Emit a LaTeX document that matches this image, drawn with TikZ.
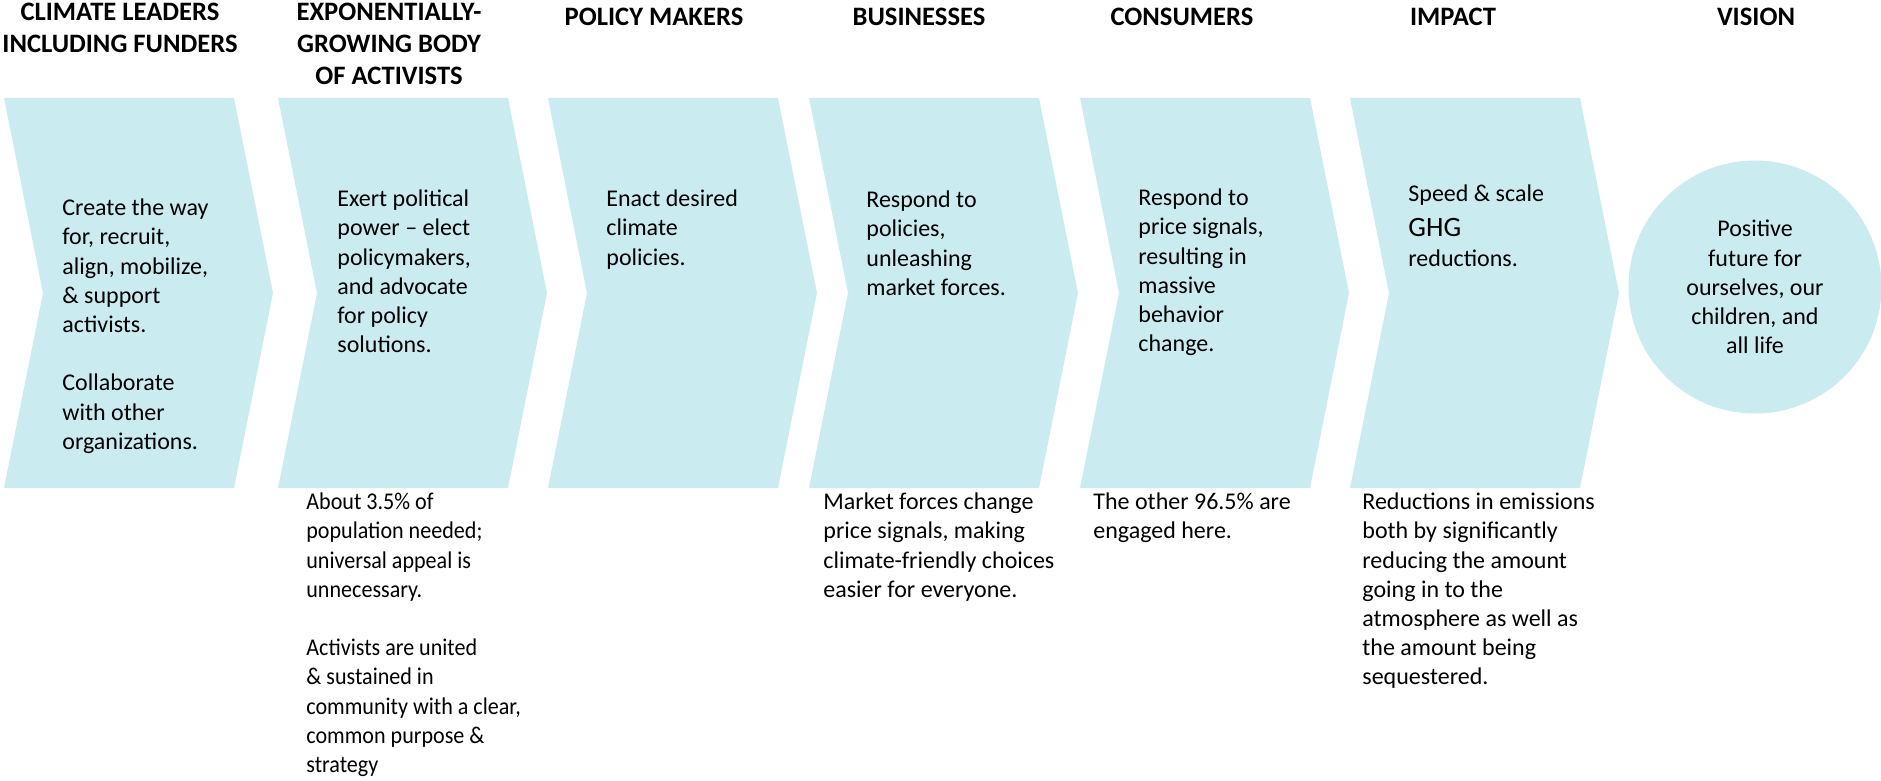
\documentclass[tikz,border=0pt]{standalone}
\usepackage{fontspec}
\setmainfont{Carlito}
\newfontfamily\narrowfont{Carlito}[FakeStretch=0.92]
\definecolor{chevblue}{RGB}{202,235,240}
\begin{document}
\begin{tikzpicture}[x=0.5pt,y=-0.5pt,
  chevfill/.style={fill=chevblue},
  % each text node is placed by the baseline of its first line
  head/.style={font=\fontsize{13.3}{16}\selectfont\bfseries, align=center, anchor=north,
    inner sep=0pt, execute at begin node=\strut, yshift=11.2pt},
  body/.style={font=\fontsize{12}{14.6}\selectfont, align=left, anchor=north west,
    inner sep=0pt, execute at begin node=\strut, yshift=10.22pt},
  narrowbody/.style={body, font=\narrowfont\fontsize{12}{14.6}\selectfont},
  chevron/.pic={\fill[chevfill] (0,0) -- (230,0) -- (269,195) -- (230,390) -- (0,390) -- (39,195) -- cycle;},
]
\useasboundingbox (0,0) rectangle (1881,781);

% stage arrows
\pic at (4,98) {chevron};
\pic at (278,98) {chevron};
\pic at (548,98) {chevron};
\pic at (809,98) {chevron};
\pic at (1080,98) {chevron};
\pic at (1350,98) {chevron};

% vision disc
\node[circle, fill=chevblue, minimum size=126.5pt, inner sep=0pt,
      font=\fontsize{12}{14.6}\selectfont, align=center] (vision) at (1755,287)
  {Positive\\future for\\ourselves, our\\children, and\\all life};

% column headings
\node[head] (h1) at (120,25) {CLIMATE LEADERS\\INCLUDING FUNDERS};
\node[head] (h2) at (389,25) {EXPONENTIALLY-\\GROWING BODY\\OF ACTIVISTS};
\node[head] (h3) at (654,25) {POLICY MAKERS};
\node[head] (h4) at (919,25) {BUSINESSES};
\node[head] (h5) at (1182,25) {CONSUMERS};
\node[head] (h6) at (1453,25) {IMPACT};
\node[head] (h7) at (1756,25) {VISION};

% text inside the arrows
\node[body] (b1) at (62,219) {Create the way\\for, recruit,\\align, mobilize,\\\& support\\activists.\\[14.6pt]Collaborate\\with other\\organizations.};
\node[body] (b2) at (337,210) {Exert political\\power – elect\\policymakers,\\and advocate\\for policy\\solutions.};
\node[body] (b3) at (606,210) {Enact desired\\climate\\policies.};
\node[body] (b4) at (866,211) {Respond to\\policies,\\unleashing\\market forces.};
\node[body] (b5) at (1138,209) {Respond to\\price signals,\\resulting in\\massive\\behavior\\change.};
\node[body] (b6) at (1408,205) {Speed \& scale\\[2.7pt]{\fontsize{14}{17}\selectfont GHG}\\[0.7pt]reductions.};

% notes below the arrows
\node[narrowbody] (n2) at (306,513) {About 3.5\% of\\population needed;\\universal appeal is\\unnecessary.\\[14.6pt]Activists are united\\\& sustained in\\community with a clear,\\common purpose \&\\strategy};
\node[body] (n4) at (823,513) {Market forces change\\price signals, making\\climate-friendly choices\\easier for everyone.};
\node[body] (n5) at (1093,513) {The other 96.5\% are\\engaged here.};
\node[body] (n6) at (1362,513) {Reductions in emissions\\both by significantly\\reducing the amount\\going in to the\\atmosphere as well as\\the amount being\\sequestered.};
\end{tikzpicture}
\end{document}
